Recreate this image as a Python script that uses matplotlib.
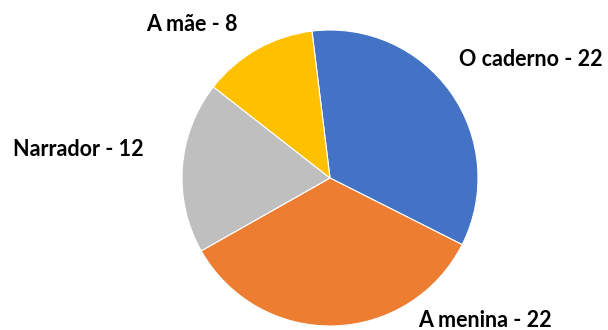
import matplotlib
matplotlib.use("Agg")
import matplotlib.pyplot as plt

# data
names = ["O caderno", "A menina", "Narrador", "A mãe"]
counts = [22, 22, 12, 8]
colors = ["#4472C4", "#ED7D31", "#BFBFBF", "#FFC000"]

# label anchor positions (pie radius = 1)
label_xy = [(1.36, 0.80), (1.05, -0.96), (-1.70, 0.19), (-0.93, 1.04)]

plt.rcParams["font.family"] = ["Lato", "DejaVu Sans"]

W, H = 608, 330
cx, cy, r = 330, 178, 148

fig = plt.figure(figsize=(W / 100, H / 100), dpi=100)
ax = fig.add_axes([(cx - r) / W, (H - cy - r) / H, 2 * r / W, 2 * r / H])

ax.pie(
    counts,
    colors=colors,
    startangle=97,
    counterclock=False,
    radius=1,
    wedgeprops=dict(linewidth=0.8, edgecolor="white"),
)
ax.set_xlim(-1, 1)
ax.set_ylim(-1, 1)
ax.set_aspect("equal")
ax.axis("off")

for name, n, (x, y) in zip(names, counts, label_xy):
    ax.text(x, y, f"{name} - {n}", ha="center", va="center",
            fontsize=15.5, fontweight="bold", color="black", clip_on=False)

fig.savefig("out.png", dpi=100, facecolor="white")
